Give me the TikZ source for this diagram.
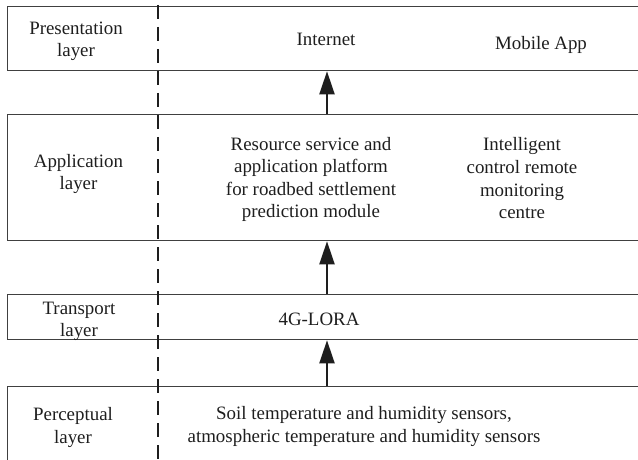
\documentclass[tikz,border=0pt]{standalone}
\usepackage{fontspec}
\setmainfont{Liberation Serif}
\usetikzlibrary{arrows.meta}
\definecolor{rule}{HTML}{404040}
\definecolor{ink}{HTML}{1E1E1E}
\begin{document}
\begin{tikzpicture}[x=1pt,y=-1pt,
  layerbox/.style={draw=rule,line width=1.3pt,rectangle,inner sep=0pt,
    anchor=north west,minimum width=660pt},
  lbl/.style={inner sep=0pt,align=center,text=ink,
    font=\fontsize{18.9pt}{22.6pt}\selectfont},
  uparrow/.style={draw=ink,line width=2pt,
    -{Triangle[length=23pt,width=15pt]}},
  divider/.style={draw=ink,line width=2pt,dash pattern=on 14pt off 8pt}]
\useasboundingbox (0,0) rectangle (638,460);
\clip (0,0) rectangle (638,460);

% layer boxes (open to the right)
\node[layerbox,minimum height=64pt]  (pres)  at (7,6)   {};
\node[layerbox,minimum height=126pt] (app)   at (7,114) {};
\node[layerbox,minimum height=45pt]  (trans) at (7,294) {};
\node[layerbox,minimum height=90pt]  (perc)  at (7,386) {};

% vertical separator
\coordinate (dtop) at (157.5,5);
\coordinate (dbot) at (157.5,470);
\draw[divider] (dtop) -- (dbot);

% data flow arrows
\coordinate (ax) at (327,0);
\draw[uparrow] (perc.north -| ax)  -- (trans.south -| ax);
\draw[uparrow] (trans.north -| ax) -- (app.south -| ax);
\draw[uparrow] (app.north -| ax)   -- (pres.south -| ax);

% layer names
\node[lbl] (presname)  at (76,41.1)   {Presentation\\layer};
\node[lbl] (appname)   at (78.5,174.1) {Application\\layer};
\node[lbl] (transname) at (79,321.4)  {Transport\\layer};
\node[lbl] (percname)  at (73,427.5)  {Perceptual\\layer};

% layer contents
\node[lbl,anchor=base] (internet) at (326,45.5) {Internet};
\node[lbl,anchor=base] (mobile)   at (541,49.5) {Mobile App};
\node[lbl] (platform) at (311,179.4)
  {Resource service and\\application platform\\for roadbed settlement\\prediction module};
\node[lbl] (centre) at (522,178.3)
  {Intelligent\\control remote\\monitoring\\centre};
\node[lbl,anchor=base] (lora) at (319,325) {4G-LORA};
\node[lbl] (sensors) at (364,426.6)
  {Soil temperature and humidity sensors,\\atmospheric temperature and humidity sensors};
\end{tikzpicture}
\end{document}
